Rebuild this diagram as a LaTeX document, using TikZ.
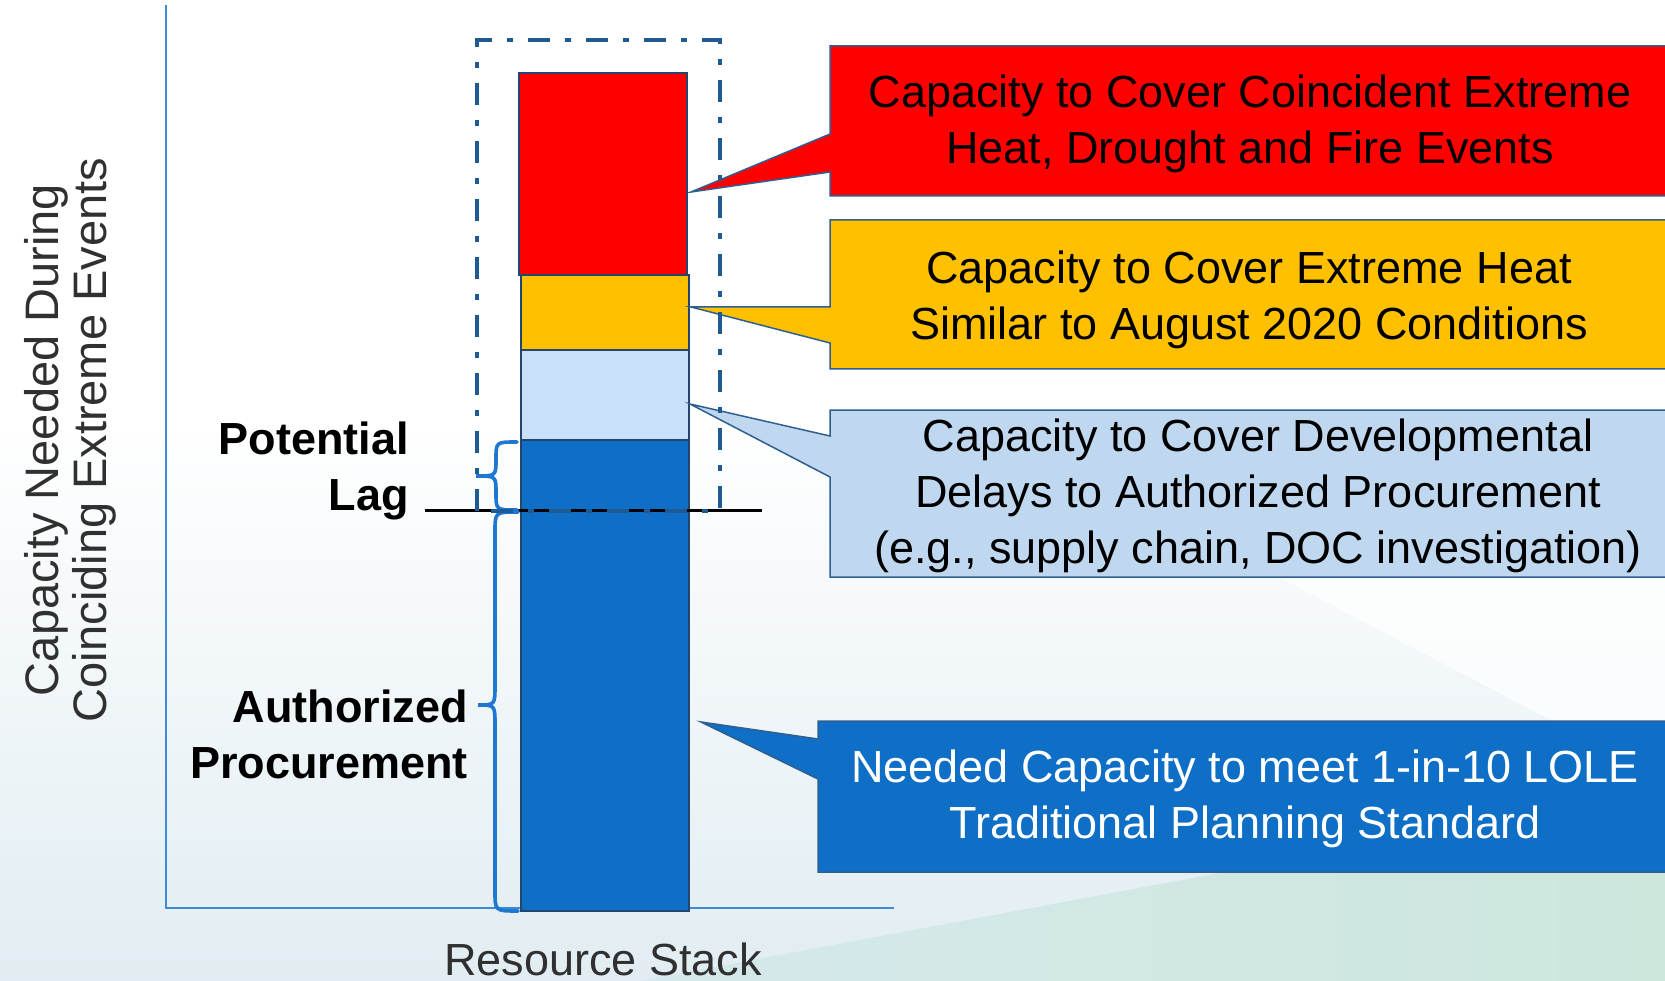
\documentclass[tikz,border=0pt]{standalone}
\usepackage{fontspec}
\setmainfont{Liberation Sans}
\definecolor{cborder}{HTML}{2F5F8F}
\definecolor{barborder}{HTML}{24466E}
\definecolor{cred}{HTML}{FF0000}
\definecolor{corange}{HTML}{FFC000}
\definecolor{lbar}{HTML}{C9E1F8}
\definecolor{lcall}{HTML}{C0D7F0}
\definecolor{dblue}{HTML}{0F6EC6}
\definecolor{boxcol}{HTML}{1E5A94}
\definecolor{bracecol}{HTML}{1E78D0}
\definecolor{axiscol}{HTML}{3F8BD6}
\definecolor{bgbot}{HTML}{E1EDF2}
\definecolor{tealL}{HTML}{D5E8EB}
\definecolor{tealR}{HTML}{CDE7DD}
\definecolor{labgray}{HTML}{303030}
\begin{document}
\begin{tikzpicture}[x=1pt,y=-1pt,
  txt/.style={font=\fontsize{45}{56}\selectfont, align=center, inner sep=0pt},
  boldlab/.style={font=\fontsize{45}{56}\selectfont\bfseries, align=right, inner sep=0pt, anchor=east},
  callout/.style={draw=cborder, line width=1.5pt, line join=miter},
  barseg/.style={draw=barborder, line width=1.5pt},
  bracestyle/.style={draw=bracecol, line width=3.6pt, line cap=round},
  axisline/.style={draw=axiscol, line width=2pt},
  dashdotbox/.style={draw=boxcol, line width=4.8pt, dash pattern=on 22pt off 15pt on 6pt off 15pt}
]
\useasboundingbox (0,0) rectangle (1665,981);
\begin{scope}
\clip (0,0) rectangle (1665,981);
% background
\fill[white] (0,0) rectangle (1665,981);
\shade[top color=white, bottom color=bgbot] (0,420) rectangle (1665,981);
\shade[left color=tealL, right color=tealR] (640,981) -- (1665,790) -- (1665,981) -- cycle;
\fill[white, opacity=0.75] (1246,560) -- (1665,560) -- (1665,780) -- cycle;

% axes
\coordinate (ytop) at (166,5);
\coordinate (orig) at (166,908);
\coordinate (xend) at (894,908);
\draw[axisline] (ytop) -- (orig) -- (xend);

% stacked bar
\draw[barseg, fill=dblue] (521,440) rectangle (689,911);
\draw[barseg, fill=lbar] (521,350) rectangle (689,440);
\draw[barseg, fill=corange] (521,275) rectangle (689,350);
\draw[barseg, fill=cred] (519,73) rectangle (687,275);

% callouts
\coordinate (tipR) at (691,192);
\coordinate (tipO) at (691,307);
\coordinate (tipL) at (690,404);
\coordinate (tipD) at (701,722);
\draw[callout, fill=cred] (830,46) -- (1700,46) -- (1700,196) -- (830,196) -- (830,172) -- (tipR) -- (830,134) -- cycle;
\draw[callout, fill=corange] (830,220) -- (1700,220) -- (1700,369) -- (830,369) -- (830,343) -- (tipO) -- (830,307) -- cycle;
\draw[callout, fill=lcall] (830,410) -- (1700,410) -- (1700,577) -- (830,577) -- (830,477) -- (tipL) -- (830,436) -- cycle;
\draw[callout, fill=dblue] (818,721) -- (1700,721) -- (1700,872) -- (818,872) -- (818,779) -- (tipD) -- (818,739) -- cycle;

\node[txt] (tR) at (1250,124) {Capacity to Cover Coincident Extreme\\Heat, Drought and Fire Events};
\node[txt] (tO) at (1249,300) {Capacity to Cover Extreme Heat\\Similar to August 2020 Conditions};
\node[txt] (tL) at (1258,496) {Capacity to Cover Developmental\\Delays to Authorized Procurement\\(e.g., supply chain, DOC investigation)};
\node[txt, text=white] (tD) at (1245,799) {Needed Capacity to meet 1-in-10 LOLE\\Traditional Planning Standard};

% lag line
\coordinate (lagL) at (425,510);
\coordinate (lagR) at (762,510);
\draw[black, line width=3pt] (lagL) -- (lagR);

% braces
\draw[bracestyle] (517,442) .. controls (496,442) .. (496,459)
   .. controls (496,476) .. (476,476)
   .. controls (496,476) .. (496,493)
   .. controls (496,510) .. (517,510);
\draw[bracestyle] (518,512) .. controls (495,512) .. (495,532) -- (495,685)
   .. controls (495,705) .. (478,705)
   .. controls (495,705) .. (495,725) -- (495,891)
   .. controls (495,911) .. (518,911);

% dash-dot box
\draw[dashdotbox] (477,511) -- (477,40) -- (720,40) -- (720,511) -- cycle;

% labels
\node[boldlab] (pl) at (409,471) {Potential\\Lag};
\node[boldlab] (ap) at (468,734) {Authorized\\Procurement};
\node[txt, rotate=90, font=\fontsize{47}{48}\selectfont, text=labgray] (ylab) at (70,440) {Capacity Needed During\\Coinciding Extreme Events};
\node[txt, anchor=base, text=labgray] (xlab) at (603,975) {Resource Stack};
\end{scope}
\end{tikzpicture}
\end{document}
